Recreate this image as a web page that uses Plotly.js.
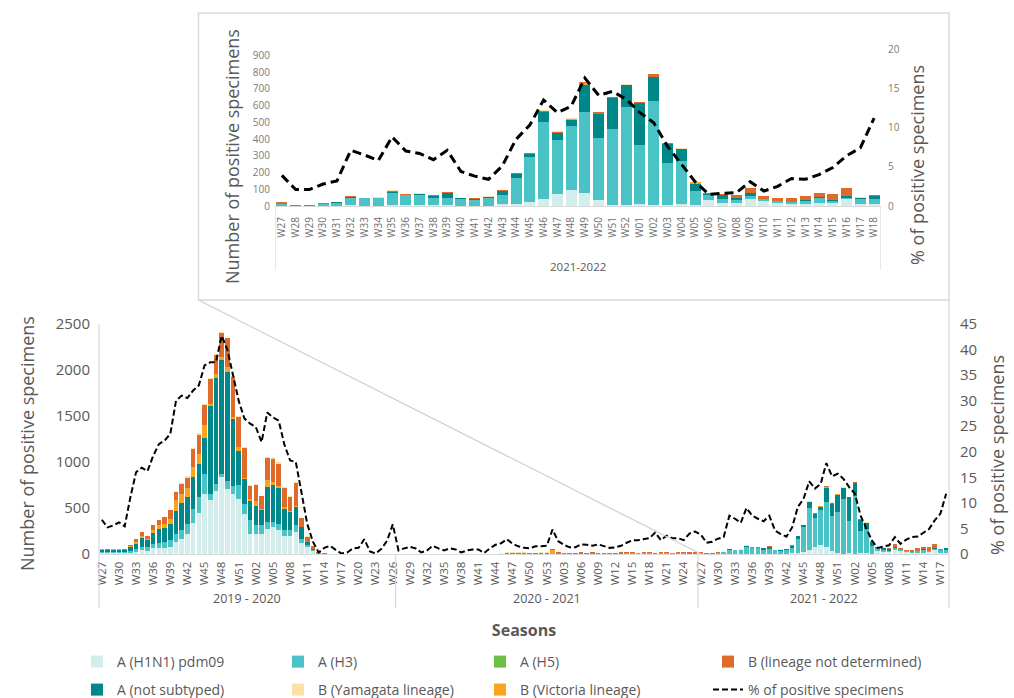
<!DOCTYPE html>
<html><head><meta charset="utf-8">
<script src="https://cdn.plot.ly/plotly-3.0.1.min.js"></script>
<style>html,body{margin:0;padding:0;background:#fff;overflow:hidden}#chart{width:1014px;height:698px}</style>
</head><body><div id="chart"></div>
<script>
// ---- Categories (weeks per season) ----
const weeks1920 = ["W27","W28","W29","W30","W31","W32","W33","W34","W35","W36","W37","W38","W39","W40","W41","W42","W43","W44","W45","W46","W47","W48","W49","W50","W51","W52",
  "W01","W02","W03","W04","W05","W06","W07","W08","W09","W10","W11","W12","W13","W14","W15","W16","W17","W18","W19","W20","W21","W22","W23","W24","W25","W26"];
const weeks2021 = ["W27","W28","W29","W30","W31","W32","W33","W34","W35","W36","W37","W38","W39","W40","W41","W42","W43","W44","W45","W46","W47","W48","W49","W50","W51","W52","W53",
  "W01","W02","W03","W04","W05","W06","W07","W08","W09","W10","W11","W12","W13","W14","W15","W16","W17","W18","W19","W20","W21","W22","W23","W24","W25","W26"];
const weeks2122 = ["W27","W28","W29","W30","W31","W32","W33","W34","W35","W36","W37","W38","W39","W40","W41","W42","W43","W44","W45","W46","W47","W48","W49","W50","W51","W52",
  "W01","W02","W03","W04","W05","W06","W07","W08","W09","W10","W11","W12","W13","W14","W15","W16","W17","W18"];
const seasonLabels = ["2019 - 2020","2020 - 2021","2021 - 2022"];
const insetSeasonLabel = "2021-2022";
const countTitle = "Number of positive specimens";
const pctTitle = "% of positive specimens";

// ---- 2019-2020 ----
const h1n1_1920 = [12,10,10,10,10, 15,22,40,35,60,65,70,80, 130,160,222,336,448,653,592,689,833,707,653,600,437, 221,221,221,275,293,265,193,193,239,121,77,35,5,2, 0,0,0,0,0,0,0,0,0,0,0,0];
const h3_1920   = [10,10,10,10,10, 20,30,40,40,50,60,60,70, 91,100,104,154,169,216,61,72,36,90,90,150,108, 144,90,90,72,54,64,64,64,72,46,18,5,2,0, 0,0,0,0,0,0,0,0,0,0,0,0];
const h5_1920   = [0,0,0,0,0, 0,0,0,0,0,0,0,0, 0,0,0,0,0,0,0,0,0,0,0,0,0, 0,0,0,0,0,0,0,0,0,0,0,0,0,0, 0,0,0,0,0,0,0,0,0,0,0,0];
const nst_1920  = [25,20,25,25,20, 40,60,90,75,120,150,150,180, 251,290,298,345,360,396,954,1152,1235,1183,720,371,270, 216,209,162,378,407,385,234,198,198,126,36,18,6,2, 0,0,0,0,0,0,0,0,0,0,0,0];
const vic_1920  = [5,5,5,5,5, 10,20,25,15,30,35,45,50, 112,100,96,108,108,133,25,43,37,52,29,44,10, 19,54,20,79,25,20,16,11,18,0,0,0,0,0, 0,0,0,0,0,0,0,0,0,0,0,0];
const bnd_1920  = [6,5,8,8,6, 15,30,44,28,52,55,76,93, 94,112,109,194,213,218,271,210,260,311,429,320,330, 144,177,137,237,255,246,213,159,248,96,56,29,8,2, 0,0,0,0,0,0,0,0,0,0,0,0];
const yam_1920  = [0,0,0,0,0, 0,0,0,0,0,0,0,0, 10,10,15,20,15,10,10,10,10,10,10,10,10, 10,10,5,15,15,15,10,10,10,5,5,0,0,0, 0,0,0,0,0,0,0,0,0,0,0,0];
const pct_1920  = [6.7,5.2,5.6,6.2,5.4,11.1,16.0,16.9,16.2,19.2,21.5,22.2,23.5,30.0,31.0,30.5,32.0,33.0,36.9,37.5,37.5,42.7,40.0,34.7,29.9,26.5,
  25.5,24.8,21.9,27.7,26.7,26.1,21.4,18.3,18.0,12.0,5.9,2.4,0.3,1.2,1.6,0.8,0.1,0.3,1.1,1.2,2.9,0.5,0.1,1.0,2.6,5.8];

// ---- 2020-2021 ----
const h1n1_2021 = [0,0,0,0,0,0,0,0,0,0,0,0,0,0,0,0,0,0, 0,0,0,0,0,0,0,0,0, 0,0,0,0,0,0,0,0,0,0,0,0, 3,5,5,3,5,5,3,5,5,3,5,5,3,3];
const h3_2021   = [0,0,0,0,0,0,0,0,0,0,0,0,0,0,0,0,0,0, 0,0,0,0,0,0,0,0,0, 0,0,0,0,0,0,0,0,0,0,0,0, 2,3,5,3,3,3,2,3,5,3,3,3,2,2];
const h5_2021   = [0,0,0,0,0,0,0,0,0,0,0,0,0,0,0,0,0,0, 0,0,0,0,0,0,0,0,0, 0,0,0,0,0,0,0,0,0,0,0,0, 0,0,0,0,0,0,0,0,0,0,0,0,0,0];
const nst_2021  = [0,0,0,0,0,0,0,0,0,0,0,0,0,0,0,0,0,0, 0,0,0,0,0,0,0,0,0, 0,0,0,0,0,0,0,0,0,0,0,0, 0,0,0,0,0,0,0,0,0,0,0,0,0,0];
const vic_2021  = [0,0,0,0,0,0,0,0,0,0,0,0,0,0,0,0,0,0, 0,0,0,0,0,0,0,0,0, 40,0,0,0,0,0,0,0,0,0,0,0, 0,0,0,0,0,0,0,0,0,0,0,0,0,0];
const bnd_2021  = [0,0,0,0,0,0,0,0,0,0,0,0,0,0,0,0,0,0, 5,12,15,12,12,8,8,12,12, 10,18,15,15,15,18,15,18,15,15,15,10, 15,15,15,10,15,15,10,15,10,10,15,15,15,18];
const yam_2021  = [0,0,0,0,0,0,0,0,0,0,0,0,0,0,0,0,0,0, 5,5,5,5,5,5,5,5,5, 0,0,0,0,0,0,0,0,0,0,0,0, 0,0,0,0,0,0,0,0,0,0,0,0,0,0];
const pct_2021  = [0.7,1.1,1.4,1.1,0.3,0.7,1.6,1.1,0.7,1.1,0.9,0.3,0.7,0.9,0.9,0.2,1.1,1.8,2.1,2.9,2.0,1.5,1.2,1.1,1.5,1.5,1.6,
  4.8,2.5,1.8,1.3,1.3,1.9,1.8,1.6,1.9,1.5,1.2,1.3,1.6,2.2,2.7,2.7,2.9,3.1,4.2,2.7,3.6,3.1,3.1,2.7,4.0,4.4];

// ---- 2021-2022 (main chart and inset) ----
const h1n1_2122 = [3,0,0,3,3,5,3,3,5,5,5,5,5,3,3,3,10,10,24,41,73,93,79,36,6,4, 14,4,8,10,5,36,20,20,40,32,20,12,12,16,20,40,12,10];
const h3_2122   = [7,2,1,10,17,42,42,42,70,60,60,40,45,37,32,42,58,157,271,460,321,384,484,372,452,589, 350,623,247,259,85,30,20,16,20,8,8,12,20,32,8,10,28,30];
const h5_2122   = [0,0,0,0,0,0,0,0,0,0,0,0,0,0,0,0,0,0,0,0,0,0,0,0,0,0, 0,0,0,0,0,0,0,0,0,0,0,0,0,0,0,0,0,0];
const nst_2122  = [2,0,0,0,2,4,1,2,10,3,4,15,25,5,5,8,22,24,15,60,40,36,159,139,185,127, 253,145,113,70,44,8,28,14,20,4,4,2,4,4,10,10,6,20];
const vic_2122  = [0,0,0,0,0,0,0,0,0,0,0,0,0,0,3,0,0,3,2,0,5,5,10,0,5,0, 0,0,0,0,8,0,0,0,0,0,0,0,0,0,0,0,0,0];
const bnd_2122  = [12,4,5,5,1,8,0,0,3,5,2,5,8,2,2,0,4,3,3,8,5,3,6,12,3,2, 3,16,10,3,2,6,2,14,27,18,14,22,26,26,34,47,4,8];
const yam_2122  = [0,0,0,0,0,0,0,5,6,0,5,0,0,0,5,6,2,3,0,2,3,4,0,2,0,4, 3,0,0,3,0,0,2,0,0,0,0,0,0,0,0,0,4,0];
const pct_2122_main  = [3.8,2.2,2.4,3.0,3.3,7.5,6.9,6.1,9.0,7.5,6.9,6.4,7.5,4.6,3.9,3.4,5.2,9.2,10.8,14.2,12.8,13.7,17.8,15.2,15.7,14.7,
  13.1,11.8,7.5,4.9,2.6,1.2,1.5,1.7,3.3,2.0,2.8,3.3,3.4,4.1,4.9,6.6,7.9,11.8];
const pct_2122_inset = [3.9,2.1,2.1,2.8,3.2,7.1,6.5,5.8,8.8,7.0,6.7,5.9,7.1,4.4,3.8,3.4,5.1,8.5,10.3,13.5,11.9,12.7,16.3,14.1,14.6,13.6,
  11.9,10.6,7.6,5.4,3.1,1.5,1.6,1.7,3.1,1.9,2.5,3.5,3.4,4.0,4.9,6.4,7.4,11.2];

// ---- Build ----
const W = 1014, H = 698;
const px = v => v / W, py = v => 1 - v / H;
const weeksAll = weeks1920.concat(weeks2021, weeks2122);
const xAll = weeksAll.map((_, i) => i);
const xIns = weeks2122.map((_, i) => i);
const n1 = weeks1920.length, n2 = weeks2021.length, n3 = weeks2122.length;
const tickIdx = xAll.filter(i => i % 3 === 0);

// stacking order (bottom -> top); lg = which legend box (column/row) holds the entry
const series = [
  {name:'A (H1N1) pdm09', color:'#d3ecec', d:[h1n1_1920,h1n1_2021,h1n1_2122], lg:'legend'},
  {name:'A (H3)', color:'#4ac3c6', d:[h3_1920,h3_2021,h3_2122], lg:'legend2'},
  {name:'A (H5)', color:'#6cbe45', d:[h5_1920,h5_2021,h5_2122], lg:'legend3'},
  {name:'A (not subtyped)', color:'#00878a', d:[nst_1920,nst_2021,nst_2122], lg:'legend5'},
  {name:'B (Victoria lineage)', color:'#f8a41f', d:[vic_1920,vic_2021,vic_2122], lg:'legend7'},
  {name:'B (lineage not determined)', color:'#df6a29', d:[bnd_1920,bnd_2021,bnd_2122], lg:'legend4'},
  {name:'B (Yamagata lineage)', color:'#fde0a8', d:[yam_1920,yam_2021,yam_2122], lg:'legend6'}
];

const traces = [];
series.forEach(s => {
  traces.push({type:'bar', name:s.name, x:xAll, y:s.d[0].concat(s.d[1], s.d[2]), xaxis:'x', yaxis:'y',
    marker:{color:s.color, line:{width:0}}, legend:s.lg});
});
series.forEach(s => {
  traces.push({type:'bar', name:s.name, x:xIns, y:s.d[2], xaxis:'x2', yaxis:'y3',
    marker:{color:s.color, line:{width:0}}, showlegend:false});
});
traces.push({type:'scatter', mode:'lines', name:pctTitle, x:xAll,
  y:pct_1920.concat(pct_2021, pct_2122_main), xaxis:'x', yaxis:'y2',
  line:{color:'#000', width:2, dash:'6px,3px'}, legend:'legend8'});
traces.push({type:'scatter', mode:'lines', name:pctTitle, x:xIns, y:pct_2122_inset,
  xaxis:'x2', yaxis:'y4', line:{color:'#000', width:3, dash:'9px,5px'}, showlegend:false});

const grey = '#595959', lineGrey = '#d9d9d9';
const FONT = 'Open Sans, sans-serif';

// legend boxes: 4 columns x 2 rows
const colX = [77, 278, 480, 708], rowY = [662, 690];
const legendBox = (c, r) => ({x:px(colX[c]), y:py(rowY[r]), xanchor:'left', yanchor:'middle',
  orientation:'h', font:{size:14, color:grey}, bgcolor:'rgba(0,0,0,0)', borderwidth:0});

// rotated axis titles placed as in the reference
const vTitle = (text, x, y) => ({xref:'paper', yref:'paper', x:px(x), y:py(y), xanchor:'center', yanchor:'middle',
  text:text, textangle:-90, showarrow:false, font:{size:18, color:grey}});

const layout = {
  width:W, height:H, margin:{l:0, r:0, t:0, b:0, pad:0, autoexpand:false},
  paper_bgcolor:'#fff', plot_bgcolor:'rgba(0,0,0,0)',
  barmode:'stack', bargap:0.2,
  font:{family:FONT, color:grey, size:12},
  hovermode:false,
  xaxis:{domain:[px(99), px(949)], anchor:'y', range:[-0.5, xAll.length - 0.5],
    tickmode:'array', tickvals:tickIdx, ticktext:tickIdx.map(i => weeksAll[i]), tickangle:-90,
    tickfont:{size:11.5, color:grey}, ticks:'', ticklabelstandoff:2, showgrid:false, zeroline:false,
    showline:true, linecolor:lineGrey, linewidth:1, automargin:false,
    title:{text:'Seasons', font:{size:16, color:grey, weight:'bold'}, standoff:40}},
  yaxis:{domain:[py(554), py(324)], anchor:'x', range:[0, 2500], dtick:500,
    tickfont:{size:15, color:grey}, ticks:'', showgrid:false, zeroline:false, showline:false,
    ticklabelstandoff:8, automargin:false},
  yaxis2:{overlaying:'y', side:'right', anchor:'x', range:[0, 45], dtick:5,
    tickfont:{size:15, color:grey}, ticks:'', showgrid:false, zeroline:false, showline:false,
    ticklabelstandoff:10, automargin:false},
  xaxis2:{domain:[px(275), px(881)], anchor:'y3', range:[-0.5, xIns.length - 0.5],
    tickmode:'array', tickvals:xIns, ticktext:weeks2122, tickangle:-90,
    tickfont:{size:10, color:'#6f6f6f'}, ticks:'', ticklabelstandoff:6, showgrid:false, zeroline:false,
    showline:true, linecolor:lineGrey, linewidth:1, automargin:false},
  yaxis3:{domain:[py(206), py(49)], anchor:'x2', range:[0, 938],
    tickmode:'array', tickvals:[0,100,200,300,400,500,600,700,800,900],
    tickfont:{size:10, color:'#7a7a7a'}, ticks:'', showgrid:false, zeroline:false, showline:false,
    ticklabelstandoff:4, automargin:false},
  yaxis4:{overlaying:'y3', side:'right', anchor:'x2', range:[0, 20], dtick:5,
    tickfont:{size:10, color:'#7a7a7a'}, ticks:'', showgrid:false, zeroline:false, showline:false,
    ticklabelstandoff:6, automargin:false},
  legend:legendBox(0,0), legend2:legendBox(1,0), legend3:legendBox(2,0), legend4:legendBox(3,0),
  legend5:legendBox(0,1), legend6:legendBox(1,1), legend7:legendBox(2,1), legend8:legendBox(3,1),
  shapes:[
    {type:'rect', xref:'paper', yref:'paper', x0:px(198.5), x1:px(949), y0:py(300), y1:py(13),
      line:{color:lineGrey, width:1.5}, fillcolor:'#fff', layer:'below'},
    {type:'line', xref:'paper', yref:'paper', x0:px(198.5), y0:py(300), x1:px(701), y1:py(554),
      line:{color:'#cfcfcf', width:1.2}},
    {type:'line', xref:'paper', yref:'paper', x0:px(99), x1:px(99), y0:py(324), y1:py(608),
      line:{color:lineGrey, width:1.2}},
    {type:'line', xref:'paper', yref:'paper', x0:px(949), x1:px(949), y0:py(300), y1:py(608),
      line:{color:lineGrey, width:1.2}},
    {type:'line', xref:'x', yref:'paper', x0:n1 - 0.5, x1:n1 - 0.5, y0:py(554), y1:py(608),
      line:{color:lineGrey, width:1.2}},
    {type:'line', xref:'x', yref:'paper', x0:n1 + n2 - 0.5, x1:n1 + n2 - 0.5, y0:py(554), y1:py(608),
      line:{color:lineGrey, width:1.2}},
    {type:'line', xref:'x2', yref:'paper', x0:-0.5, x1:-0.5, y0:py(206), y1:py(270),
      line:{color:lineGrey, width:1.2}},
    {type:'line', xref:'x2', yref:'paper', x0:n3 - 0.5, x1:n3 - 0.5, y0:py(206), y1:py(270),
      line:{color:lineGrey, width:1.2}}
  ],
  annotations:[
    {xref:'x', yref:'paper', x:(n1 - 1) / 2, y:py(598), yanchor:'middle', text:seasonLabels[0], showarrow:false,
      font:{size:12.5, color:grey}},
    {xref:'x', yref:'paper', x:n1 + (n2 - 1) / 2, y:py(598), yanchor:'middle', text:seasonLabels[1], showarrow:false,
      font:{size:12.5, color:grey}},
    {xref:'x', yref:'paper', x:n1 + n2 + (n3 - 1) / 2, y:py(598), yanchor:'middle', text:seasonLabels[2], showarrow:false,
      font:{size:12.5, color:grey}},
    {xref:'x2', yref:'paper', x:(n3 - 1) / 2, y:py(266), yanchor:'middle', text:insetSeasonLabel, showarrow:false,
      font:{size:11.5, color:grey}},
    vTitle(countTitle, 27, 444),
    vTitle(pctTitle, 997, 455),
    vTitle(countTitle, 232, 157),
    vTitle(pctTitle, 917, 165)
  ]
};

Plotly.newPlot('chart', traces, layout, {displayModeBar:false, staticPlot:true});
</script>
</body></html>
